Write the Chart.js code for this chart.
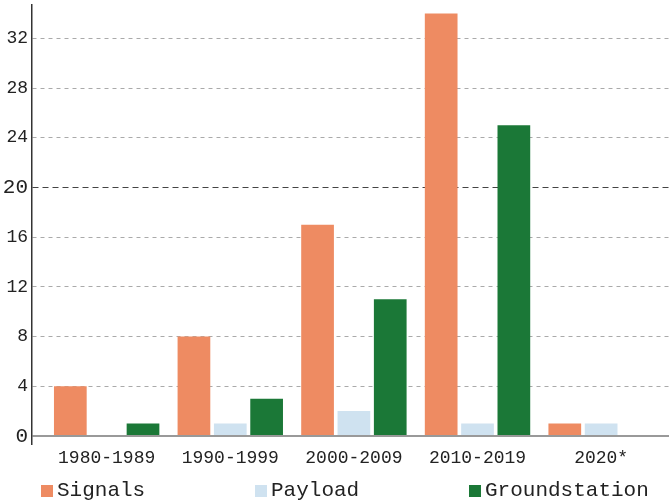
<!DOCTYPE html>
<html>
<head>
<meta charset="utf-8">
<script src="https://cdn.jsdelivr.net/npm/chart.js@4/dist/chart.umd.min.js"></script>
<style>
  html, body { margin: 0; padding: 0; background: #fff; }
  #wrap { position: relative; width: 669px; height: 503px; }
  #chartBox { position: absolute; left: 0; top: 0; width: 669px; height: 473px; }
  #legend { position: absolute; left: 0; top: 0; width: 669px; height: 503px; pointer-events: none;
            font-family: "Liberation Mono", monospace; font-size: 21px; color: #222; }
  .lg-box { position: absolute; width: 12px; height: 12px; top: 485px; }
  .lg-text { position: absolute; top: 481px; line-height: 20px; white-space: nowrap; }
</style>
</head>
<body>
<div id="wrap">
  <div id="chartBox"><canvas id="c"></canvas></div>
  <div id="legend"></div>
</div>
<script>
const categories = ["1980-1989", "1990-1999", "2000-2009", "2010-2019", "2020*"];
const signals = [4, 8, 17, 34, 1];
const payload = [0, 1, 2, 1, 1];
const groundstation = [1, 3, 11, 25, 0];
const yTicks = [0, 4, 8, 12, 16, 20, 24, 28, 32];
const seriesNames = ["Signals", "Payload", "Groundstation"];
const seriesColors = ["#EE8B62", "#CFE2F0", "#1B7837"];

const FONT = "'Liberation Mono', monospace";
const toXY = arr => arr.map((v, i) => ({ x: i, y: v }));
const noPad = s => { s.paddingTop = 0; s.paddingBottom = 0; s.paddingLeft = 0; s.paddingRight = 0; };

const chart = new Chart(document.getElementById('c'), {
  type: 'bar',
  data: {
    datasets: [
      { label: seriesNames[0], data: toXY(signals), backgroundColor: seriesColors[0] },
      { label: seriesNames[1], data: toXY(payload), backgroundColor: seriesColors[1] },
      { label: seriesNames[2], data: toXY(groundstation), backgroundColor: seriesColors[2] }
    ]
  },
  options: {
    responsive: true,
    maintainAspectRatio: false,
    animation: false,
    layout: { padding: { top: 5, right: 0, bottom: 1, left: 0 } },
    datasets: { bar: { categoryPercentage: 0.882, barPercentage: 0.9, borderWidth: 0 } },
    plugins: { legend: { display: false }, tooltip: { enabled: false } },
    scales: {
      x: {
        type: 'linear',
        offset: false,
        min: -0.604,
        max: 4.549,
        afterBuildTicks: s => { s.ticks = categories.map((c, i) => ({ value: i })); },
        afterFit: noPad,
        ticks: {
          autoSkip: false,
          maxRotation: 0,
          padding: 3,
          color: '#222',
          font: { family: FONT, size: 18 },
          callback: v => categories[v]
        },
        grid: { display: false, drawTicks: false, offset: false },
        border: { display: false }
      },
      y: {
        min: -0.68,
        max: 34.68,
        afterBuildTicks: s => { s.ticks = yTicks.map(v => ({ value: v })); },
        afterFit: s => { s.width = 32; noPad(s); },
        ticks: {
          padding: 4,
          color: '#222',
          font: ctx => ({ family: FONT, size: (ctx.tick && (ctx.tick.value === 0 || ctx.tick.value === 20)) ? 21 : 18 })
        },
        grid: {
          drawTicks: false,
          color: ctx => {
            const v = ctx.tick ? ctx.tick.value : null;
            return v === 0 ? '#999' : (v === 20 ? '#444' : '#aaa');
          },
          lineWidth: ctx => (ctx.tick && ctx.tick.value === 0) ? 2 : 1
        },
        border: {
          display: true,
          color: '#333',
          width: 1.5,
          dash: ctx => {
            const v = ctx.tick ? ctx.tick.value : null;
            if (v === null || v === 0) return [];
            return v === 20 ? [6, 4] : [4, 4];
          }
        }
      }
    }
  }
});

// legend (HTML, built from the chart's datasets)
const lg = document.getElementById('legend');
chart.data.datasets.forEach((ds, i) => {
  const left = 41 + i * 214;
  const b = document.createElement('div');
  b.className = 'lg-box';
  b.style.left = left + 'px';
  b.style.background = ds.backgroundColor;
  const t = document.createElement('div');
  t.className = 'lg-text';
  t.style.left = (left + 16) + 'px';
  t.textContent = ds.label;
  lg.appendChild(b);
  lg.appendChild(t);
});
</script>
</body>
</html>
